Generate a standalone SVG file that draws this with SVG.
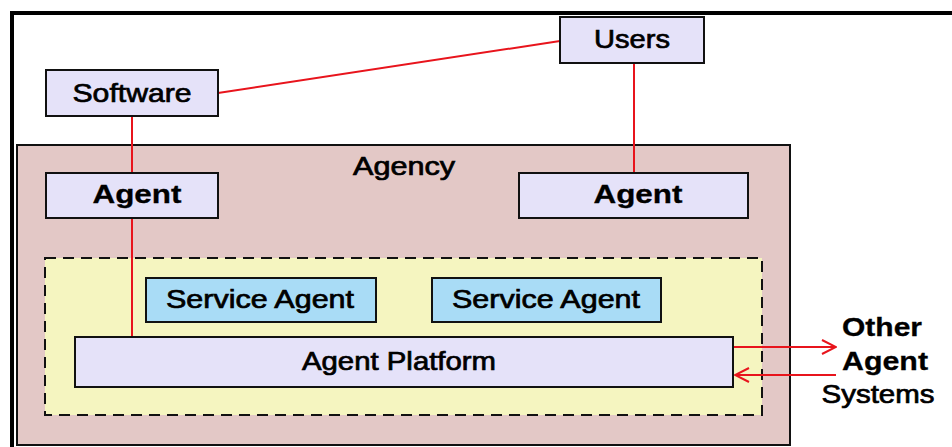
<svg xmlns="http://www.w3.org/2000/svg" width="952" height="447" viewBox="0 0 952 447">
<defs>
<marker id="arr" viewBox="0 0 16 16" refX="15" refY="8" markerWidth="16" markerHeight="16" markerUnits="userSpaceOnUse" orient="auto">
<path d="M1,1 L15,8 L1,15" fill="none" stroke="#e8141c" stroke-width="2"/>
</marker>
</defs>
<style>
.box{stroke:#111;stroke-width:2}
.lav{fill:#e5e2f9}
.svc{fill:#a9dcf6}
.t{font-family:"Liberation Sans",Arial,sans-serif;fill:#000;text-anchor:middle;stroke:#000;stroke-width:0.7}
.b{font-weight:bold;stroke-width:0.3}
.c{stroke:#e8141c;stroke-width:2;fill:none}
</style>
<rect width="952" height="447" fill="#fff"/>
<path d="M12,447 L12,13 L952,13" fill="none" stroke="#000" stroke-width="4"/>
<g id="agency">
<rect class="box" x="17" y="145" width="773" height="300" fill="#e3c8c6"/>
<text class="t" x="404" y="175" font-size="25" textLength="102" lengthAdjust="spacingAndGlyphs">Agency</text>
</g>
<g id="platform-area">
<rect x="45" y="258" width="717" height="157" fill="#f5f5c0" stroke="#111" stroke-width="2" stroke-dasharray="11,7"/>
</g>
<g id="connectors">
<line class="c" x1="218" y1="93" x2="560" y2="41"/>
<line class="c" x1="132" y1="116" x2="132" y2="173"/>
<line class="c" x1="132" y1="218" x2="132" y2="337"/>
<line class="c" x1="634" y1="63" x2="634" y2="173"/>
<line class="c" x1="733" y1="347" x2="836" y2="347" marker-end="url(#arr)"/>
<line class="c" x1="836" y1="375" x2="735" y2="375" marker-end="url(#arr)"/>
</g>
<g id="software">
<rect class="box lav" x="46" y="70" width="172" height="46"/>
<text class="t" x="132" y="102" font-size="26" textLength="119" lengthAdjust="spacingAndGlyphs">Software</text>
</g>
<g id="users">
<rect class="box lav" x="560" y="17" width="144" height="46"/>
<text class="t" x="632" y="48" font-size="26" textLength="76" lengthAdjust="spacingAndGlyphs">Users</text>
</g>
<g id="agent-left">
<rect class="box lav" x="46" y="173" width="172" height="45"/>
<text class="t b" x="137" y="203" font-size="26" textLength="89" lengthAdjust="spacingAndGlyphs">Agent</text>
</g>
<g id="agent-right">
<rect class="box lav" x="519" y="173" width="229" height="45"/>
<text class="t b" x="638" y="203" font-size="26" textLength="89" lengthAdjust="spacingAndGlyphs">Agent</text>
</g>
<g id="service-agent-1">
<rect class="box svc" x="146" y="278" width="230" height="44"/>
<text class="t" x="260" y="308" font-size="25" textLength="188" lengthAdjust="spacingAndGlyphs">Service Agent</text>
</g>
<g id="service-agent-2">
<rect class="box svc" x="432" y="278" width="229" height="44"/>
<text class="t" x="546" y="308" font-size="25" textLength="188" lengthAdjust="spacingAndGlyphs">Service Agent</text>
</g>
<g id="agent-platform">
<rect class="box lav" x="75" y="337" width="658" height="50"/>
<text class="t" x="399" y="370" font-size="25" textLength="194" lengthAdjust="spacingAndGlyphs">Agent Platform</text>
</g>
<g id="other-agent-systems">
<text class="t b" x="882" y="336" font-size="26" textLength="80" lengthAdjust="spacingAndGlyphs">Other</text>
<text class="t b" x="885" y="370" font-size="26" textLength="86" lengthAdjust="spacingAndGlyphs">Agent</text>
<text class="t" x="878" y="403" font-size="25" textLength="113" lengthAdjust="spacingAndGlyphs">Systems</text>
</g>
</svg>
